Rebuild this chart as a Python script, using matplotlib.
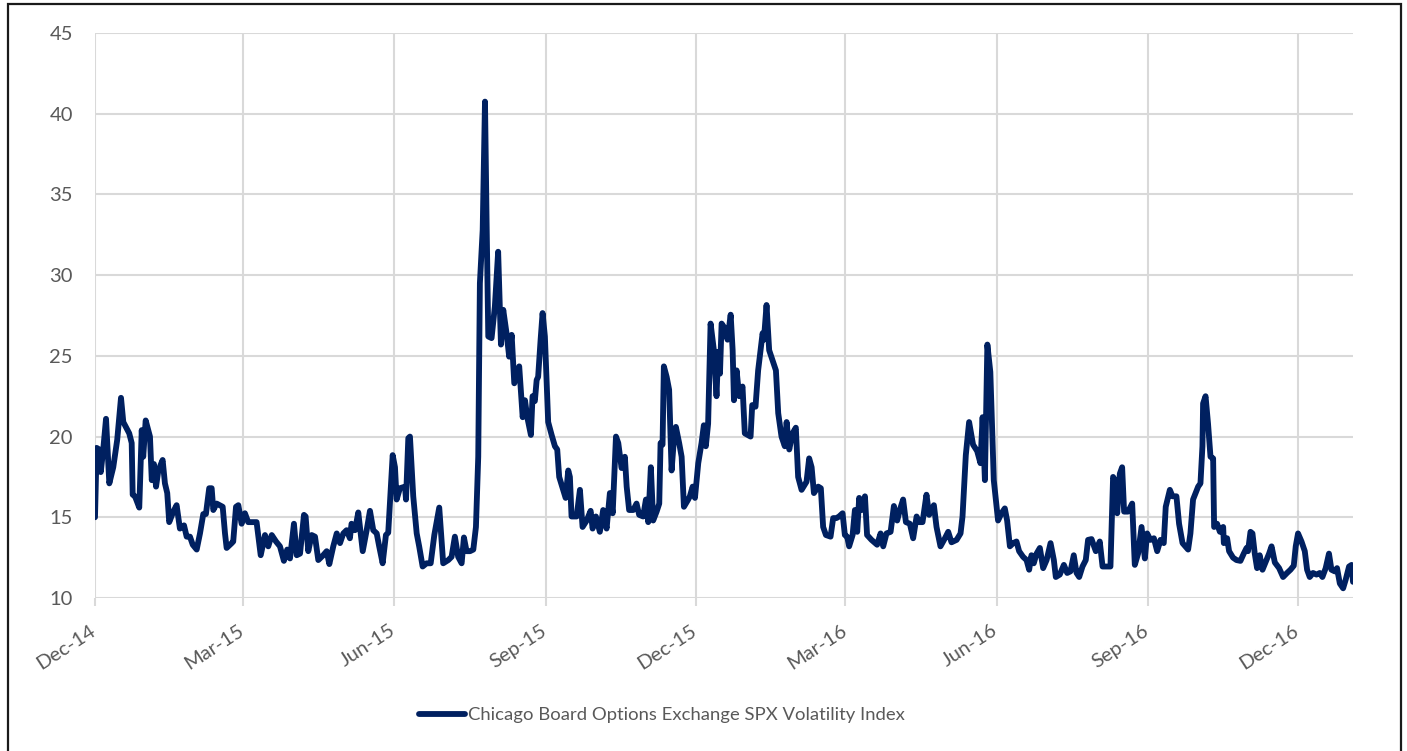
import numpy as np
import pandas as pd
import matplotlib
matplotlib.use("Agg")
import matplotlib.pyplot as plt
import matplotlib.dates as mdates
import matplotlib.patches as mpatches
import matplotlib.transforms as mtransforms

plt.rcParams['font.family'] = ['Lato', 'DejaVu Sans']

# ---- data (days after 2014-12-01, VIX level) ----
start_date = "2014-12-01"
day_offset = [
    0.0, 1.0, 2.6, 3.5, 5.0, 6.7, 8.7, 11.1, 13.5, 15.8, 17.2, 20.8, 22.3, 22.9, 24.3, 26.9,
    28.4, 29.3, 30.8, 33.4, 34.5, 35.8, 37.1, 38.5, 41.1, 42.5, 43.9, 45.1, 47.6, 49.6, 51.6,
    54.1, 55.7, 57.7, 59.4, 61.8, 63.8, 65.8, 67.4, 69.4, 70.9, 71.9, 73.9, 77.6, 79.0, 80.0,
    83.1, 84.0, 85.7, 87.1, 89.1, 91.1, 93.1, 98.2, 100.7, 103.3, 105.3, 107.4, 110.0, 112.4,
    114.8, 116.8, 118.5, 120.9, 122.6, 124.6, 127.0, 128.0, 129.6, 131.7, 133.7, 135.7, 138.7,
    140.8, 142.4, 144.8, 146.9, 148.9, 150.9, 152.9, 154.9, 155.9, 158.0, 160.0, 162.7, 165.1,
    167.1, 169.1, 171.2, 172.7, 174.8, 176.8, 178.2, 180.9, 182.3, 183.3, 185.3, 188.4, 189.0,
    190.4, 191.4, 193.4, 195.5, 197.0, 199.1, 201.5, 204.0, 206.2, 209.2, 211.6, 214.7, 216.7,
    218.7, 220.7, 222.8, 224.2, 225.8, 227.9, 229.9, 231.5, 232.9, 233.9, 235.6, 237.0, 238.0,
    239.0, 241.0, 243.0, 245.0, 246.7, 248.1, 250.1, 251.7, 253.2, 254.8, 257.8, 259.9, 261.3,
    262.7, 264.9, 265.9, 267.3, 268.4, 269.3, 270.8, 272.0, 273.4, 275.4, 277.5, 279.5, 280.9,
    282.1, 284.5, 286.0, 287.6, 288.6, 289.6, 292.7, 294.7, 296.3, 298.8, 301.2, 302.4, 304.4,
    306.8, 308.8, 310.9, 312.9, 314.6, 316.6, 318.0, 320.0, 322.0, 323.1, 324.6, 327.1, 329.1,
    330.7, 333.1, 334.8, 336.2, 337.8, 339.2, 341.3, 342.9, 343.7, 344.9, 345.7, 347.4, 348.9,
    350.4, 351.8, 353.0, 355.0, 356.5, 357.9, 360.5, 361.5, 363.2, 364.6, 366.6, 368.6, 370.0,
    371.2, 372.6, 374.1, 376.1, 377.7, 378.7, 379.8, 380.8, 382.8, 384.4, 386.3, 387.5, 388.3,
    389.9, 391.5, 393.5, 394.9, 398.4, 399.4, 401.4, 403.0, 405.7, 406.5, 408.1, 409.7, 413.8,
    415.2, 417.2, 419.2, 420.3, 421.9, 423.9, 425.9, 427.3, 429.4, 432.4, 434.0, 435.5, 436.9,
    439.5, 441.1, 442.5, 444.2, 447.0, 448.6, 450.6, 452.2, 454.3, 455.7, 457.1, 458.3, 460.4,
    461.8, 463.2, 464.4, 465.9, 467.9, 469.2, 471.9, 475.3, 477.4, 479.0, 481.0, 483.5, 485.5,
    487.5, 489.1, 491.1, 492.8, 495.2, 497.2, 499.3, 500.8, 502.9, 505.3, 506.9, 509.8, 511.4,
    513.8, 516.5, 518.5, 520.5, 523.6, 526.0, 527.2, 529.2, 531.2, 533.6, 536.1, 538.1, 539.4,
    540.8, 542.3, 544.1, 546.2, 548.8, 550.9, 552.9, 554.3, 556.0, 558.0, 560.0, 561.6, 564.0,
    566.1, 567.7, 569.1, 570.5, 572.2, 574.2, 576.2, 578.3, 580.7, 582.7, 583.9, 586.3, 588.8,
    590.8, 592.8, 594.8, 596.5, 598.1, 600.1, 602.1, 603.5, 605.6, 608.2, 610.6, 612.3, 617.1,
    618.7, 619.8, 621.2, 622.8, 624.2, 625.4, 627.8, 630.3, 631.9, 633.9, 636.0, 638.0, 639.4,
    641.4, 643.5, 645.5, 647.5, 649.5, 650.7, 653.2, 654.8, 657.2, 658.8, 660.9, 664.3, 665.7,
    667.3, 670.4, 671.8, 673.0, 673.4, 674.9, 676.4, 677.9, 679.5, 680.1, 681.9, 683.6, 685.6,
    686.0, 688.0, 689.2, 691.6, 693.7, 696.1, 698.1, 699.8, 700.7, 702.2, 703.4, 704.8, 706.2,
    707.8, 709.5, 711.5, 713.5, 715.0, 717.0, 719.6, 722.0, 724.4, 726.5, 728.5, 729.7, 731.1,
    733.2, 735.2, 736.6, 738.2, 740.2, 742.3, 744.3, 745.9, 747.9, 749.9, 751.4, 753.4, 754.8,
    756.5, 758.5, 760.1, 762.1, 763.6, 764.5,
]
vix = [
    15.0, 19.3, 19.2, 17.8, 19.2, 21.1, 17.1, 18.1, 19.8, 22.4, 20.9, 20.2, 19.6, 16.4, 16.3, 15.6,
    20.4, 18.75, 21.0, 20.0, 17.3, 18.3, 16.9, 17.9, 18.55, 17.1, 16.5, 14.7, 15.35, 15.75, 14.3,
    14.5, 13.8, 13.8, 13.3, 13.0, 14.0, 15.2, 15.2, 16.8, 16.8, 15.45, 15.85, 15.65, 14.0, 13.1,
    13.4, 13.5, 15.65, 15.75, 14.6, 15.25, 14.7, 14.7, 12.65, 13.9, 13.2, 13.9, 13.5, 13.2,
    12.3, 13.0, 12.45, 14.6, 12.65, 12.75, 15.15, 15.05, 12.9, 13.9, 13.8, 12.35, 12.65,
    12.9, 12.1, 13.2, 14.0, 13.4, 14.0, 14.2, 13.7, 14.6, 14.2, 15.3, 12.9, 14.2,
    15.4, 14.2, 14.0, 13.2, 12.15, 13.9, 14.05, 18.85, 18.1, 16.1, 16.8, 16.9, 16.1,
    19.9, 20.0, 16.3, 14.0, 13.2, 11.95, 12.15, 12.15, 13.9, 15.6, 12.15, 12.35, 12.55,
    13.8, 12.55, 12.15, 13.75, 12.9, 12.9, 13.0, 14.4, 18.75, 29.5, 32.8, 40.75, 33.2,
    26.2, 26.1, 28.05, 31.45, 25.7, 27.85, 26.4, 24.95, 26.3, 23.3, 24.35, 21.2, 22.25,
    21.2, 20.1, 22.5, 22.2, 23.5, 23.7, 26.0, 27.65, 26.2, 20.9, 20.1, 19.4, 19.2,
    17.5, 16.7, 16.2, 17.9, 17.5, 15.05, 15.05, 16.7, 14.4, 14.8, 15.4, 14.3, 15.05,
    14.1, 15.45, 14.3, 16.5, 15.25, 20.0, 19.6, 18.05, 18.75, 16.9, 15.45, 15.45, 15.85,
    15.15, 15.05, 16.1, 14.7, 18.1, 14.8, 15.35, 15.85, 19.6, 19.5, 24.35, 23.7, 22.9,
    17.9, 19.8, 20.6, 19.6, 18.75, 15.65, 16.1, 16.3, 16.9, 16.2, 18.35, 19.6, 20.7,
    19.4, 20.8, 27.0, 25.35, 22.5, 25.25, 23.9, 27.0, 26.7, 26.0, 27.55, 25.35, 22.25,
    24.1, 22.5, 23.1, 20.2, 20.0, 21.95, 21.85, 24.1, 26.4, 26.0, 28.15, 25.35, 24.1,
    21.45, 20.0, 19.4, 20.9, 19.2, 20.2, 20.55, 17.5, 16.7, 17.2, 18.65, 18.1, 16.5,
    16.9, 16.8, 14.4, 13.9, 13.8, 14.95, 14.95, 15.05, 15.25, 13.9, 13.8, 13.2, 13.9,
    15.45, 14.1, 16.2, 15.45, 16.3, 13.9, 13.6, 13.3, 14.0, 13.2, 14.0, 14.1, 15.7,
    14.8, 15.45, 16.1, 14.7, 14.6, 13.7, 15.05, 14.7, 14.7, 16.4, 15.15, 15.75, 14.4,
    13.2, 13.7, 14.1, 13.45, 13.6, 14.0, 15.05, 18.85, 20.9, 19.5, 19.1, 18.35, 21.2,
    17.3, 25.7, 24.0, 17.3, 14.8, 15.25, 15.55, 14.8, 13.2, 13.4, 13.5, 12.9, 12.55,
    12.35, 11.75, 12.65, 12.15, 12.75, 13.1, 11.85, 12.35, 13.4, 12.35, 11.3, 11.45, 12.05,
    11.55, 11.65, 12.65, 11.55, 11.3, 11.95, 12.35, 13.6, 13.65, 12.9, 13.5, 11.95, 11.95,
    17.5, 17.3, 15.25, 17.7, 18.1, 15.35, 15.35, 15.85, 12.05, 12.75, 14.4, 12.45, 14.0,
    13.6, 13.7, 12.9, 13.6, 13.4, 15.65, 16.7, 16.3, 16.3, 14.6, 13.4, 13.0, 14.0,
    16.1, 16.9, 17.1, 19.4, 22.05, 22.5, 20.8, 18.75, 18.65, 14.4, 14.6, 14.1, 14.4,
    13.4, 13.7, 12.9, 12.5, 12.35, 12.3, 12.75, 13.1, 12.9, 14.1, 14.0, 12.75, 11.85,
    12.65, 11.75, 12.25, 12.75, 13.2, 12.2, 11.85, 11.3, 11.55, 11.75, 12.0, 13.2, 14.0,
    13.5, 12.9, 11.75, 11.3, 11.55, 11.45, 11.55, 11.3, 11.85, 12.75, 11.75, 11.65, 11.85,
    10.9, 10.6, 11.15, 11.95, 12.05, 11.0,
]
tick_dates = ["2014-12-01", "2015-03-01", "2015-06-01", "2015-09-01", "2015-12-01",
              "2016-03-01", "2016-06-01", "2016-09-01", "2016-12-01"]
y_ticks = [10, 15, 20, 25, 30, 35, 40, 45]
series_label = "Chicago Board Options Exchange SPX Volatility Index"
axis_end_offset = 764.5

# ---- figure ----
W, H = 1407, 751
fig = plt.figure(figsize=(W / 100, H / 100), dpi=100)
fig.patch.set_facecolor("white")

ax = fig.add_axes([95 / W, 1 - 598 / H, (1353 - 95) / W, (598 - 33) / H])

t0 = pd.Timestamp(start_date)
dates = t0 + pd.to_timedelta(np.array(day_offset), unit="D")
navy = "#002060"
grey_text = "#595959"
grid_c = "#d9d9d9"

line, = ax.plot(dates, vix, color=navy, lw=4.2, solid_joinstyle="round",
                solid_capstyle="round", label=series_label, zorder=3)

ax.set_xlim(t0, t0 + pd.Timedelta(days=axis_end_offset))
ax.set_ylim(10, 45)
ax.set_yticks(y_ticks)
ax.set_xticks(pd.to_datetime(tick_dates))
ax.xaxis.set_major_formatter(mdates.DateFormatter("%b-%y"))

for s in ax.spines.values():
    s.set_visible(False)
ax.grid(True, color=grid_c, lw=1.5, zorder=0)
ax.set_axisbelow(True)
ax.tick_params(axis="y", length=0, pad=16, labelsize=14.5, labelcolor=grey_text)
ax.tick_params(axis="x", length=6, width=1.5, color=grid_c, pad=11,
               labelsize=14.5, labelcolor=grey_text)
offset = mtransforms.ScaledTranslation(4 / 100, 0, fig.dpi_scale_trans)
for lab in ax.get_xticklabels():
    lab.set_rotation(33)
    lab.set_ha("right")
    lab.set_va("top")
    lab.set_transform(lab.get_transform() + offset)

leg = fig.legend(handles=[line], loc="center", bbox_to_anchor=(661.5 / W, 1 - 715 / H),
                 frameon=False, fontsize=13.3, handlelength=2.5, handletextpad=0.15,
                 labelcolor=grey_text)

# outer border
border = mpatches.Rectangle((8 / W, -0.05), (1401 - 8) / W, 1.05 - 3.5 / H,
                            transform=fig.transFigure, fill=False,
                            edgecolor="#1a1a1a", lw=1.6, clip_on=False)
fig.patches.append(border)

fig.savefig("out.png", dpi=100, facecolor="white")
